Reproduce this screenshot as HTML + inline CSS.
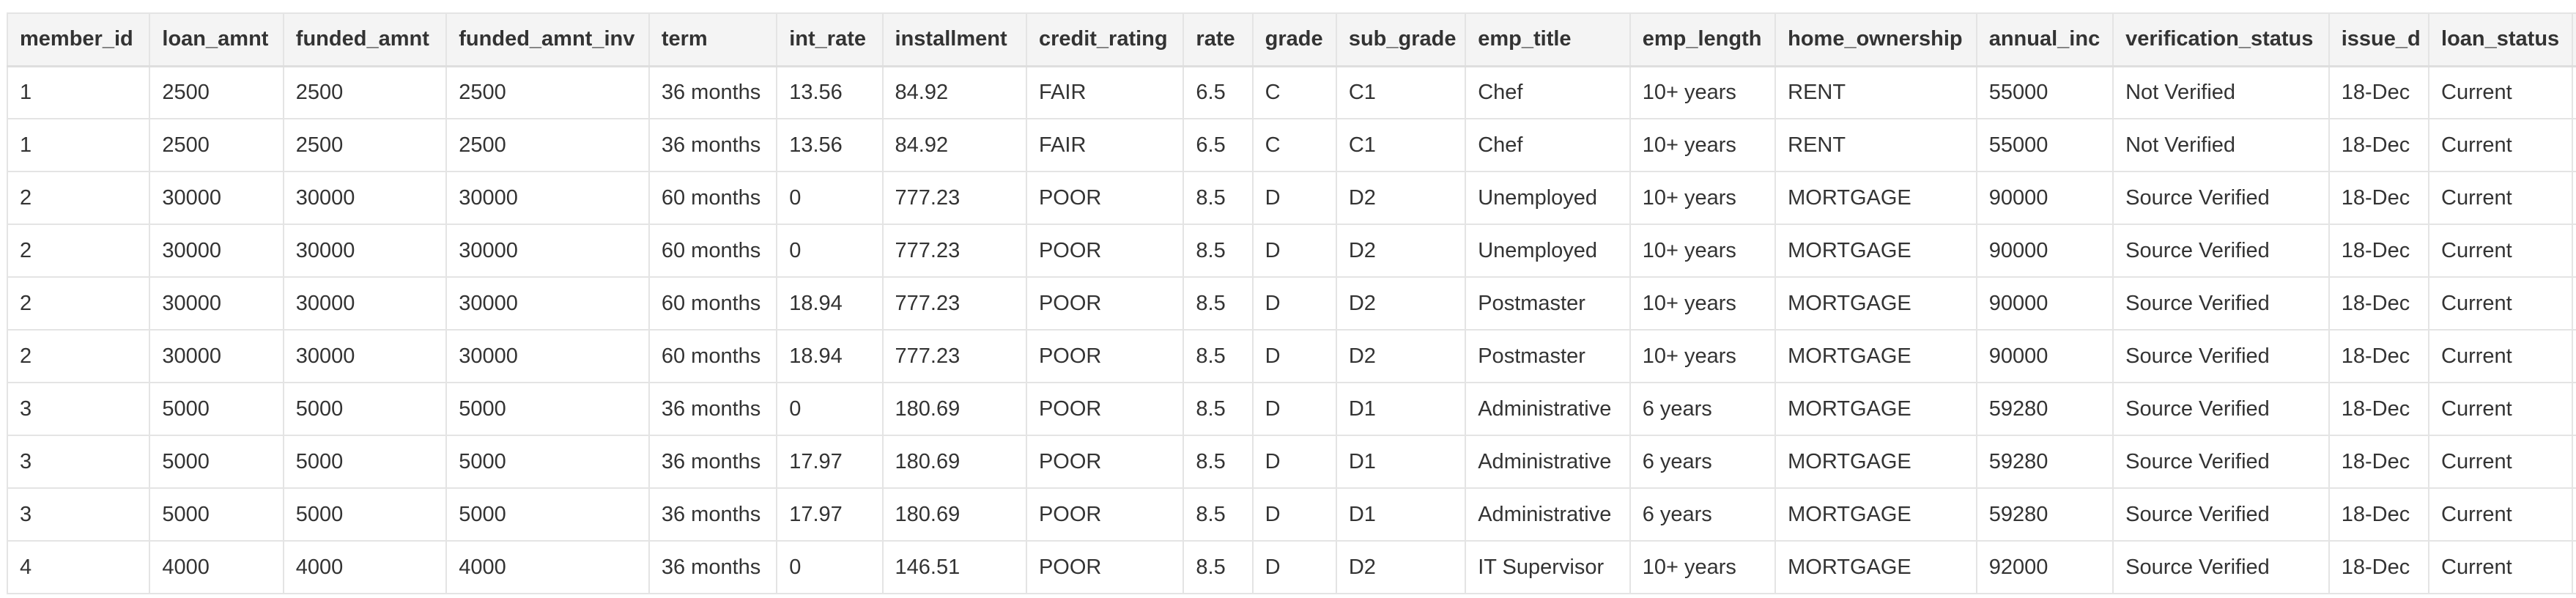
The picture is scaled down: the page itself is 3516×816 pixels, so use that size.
<!DOCTYPE html>
<html><head><meta charset="utf-8"><style>
html,body{margin:0;padding:0;background:#fff;width:3516px;height:816px;overflow:hidden}
table{position:absolute;left:9px;top:17px;border-collapse:collapse;table-layout:fixed;width:3700px;font-family:"Liberation Sans",sans-serif;font-size:29px;color:#333}
td,th{border:2px solid #e4e4e4;height:70px;padding:0 0 0 16px;text-align:left;white-space:nowrap;overflow:hidden;vertical-align:middle;box-sizing:border-box}
tr{height:72px}
th{background:#f4f4f4;font-weight:bold;color:#333;border-bottom:3px solid #dedede}
</style></head><body>
<table>
<colgroup>
<col style="width:194px"><col style="width:182px"><col style="width:222px"><col style="width:276px"><col style="width:174px"><col style="width:144px"><col style="width:196px"><col style="width:214px"><col style="width:94px"><col style="width:114px"><col style="width:176px"><col style="width:224px"><col style="width:198px"><col style="width:274px"><col style="width:186px"><col style="width:294px"><col style="width:136px"><col style="width:196px"><col style="width:196px">
</colgroup>
<tr><th>member_id</th><th>loan_amnt</th><th>funded_amnt</th><th>funded_amnt_inv</th><th>term</th><th>int_rate</th><th>installment</th><th>credit_rating</th><th>rate</th><th>grade</th><th>sub_grade</th><th>emp_title</th><th>emp_length</th><th>home_ownership</th><th>annual_inc</th><th>verification_status</th><th>issue_d</th><th>loan_status</th><th></th></tr>
<tr><td>1</td><td>2500</td><td>2500</td><td>2500</td><td>36 months</td><td>13.56</td><td>84.92</td><td>FAIR</td><td>6.5</td><td>C</td><td>C1</td><td>Chef</td><td>10+ years</td><td>RENT</td><td>55000</td><td>Not Verified</td><td>18-Dec</td><td>Current</td><td></td></tr>
<tr><td>1</td><td>2500</td><td>2500</td><td>2500</td><td>36 months</td><td>13.56</td><td>84.92</td><td>FAIR</td><td>6.5</td><td>C</td><td>C1</td><td>Chef</td><td>10+ years</td><td>RENT</td><td>55000</td><td>Not Verified</td><td>18-Dec</td><td>Current</td><td></td></tr>
<tr><td>2</td><td>30000</td><td>30000</td><td>30000</td><td>60 months</td><td>0</td><td>777.23</td><td>POOR</td><td>8.5</td><td>D</td><td>D2</td><td>Unemployed</td><td>10+ years</td><td>MORTGAGE</td><td>90000</td><td>Source Verified</td><td>18-Dec</td><td>Current</td><td></td></tr>
<tr><td>2</td><td>30000</td><td>30000</td><td>30000</td><td>60 months</td><td>0</td><td>777.23</td><td>POOR</td><td>8.5</td><td>D</td><td>D2</td><td>Unemployed</td><td>10+ years</td><td>MORTGAGE</td><td>90000</td><td>Source Verified</td><td>18-Dec</td><td>Current</td><td></td></tr>
<tr><td>2</td><td>30000</td><td>30000</td><td>30000</td><td>60 months</td><td>18.94</td><td>777.23</td><td>POOR</td><td>8.5</td><td>D</td><td>D2</td><td>Postmaster</td><td>10+ years</td><td>MORTGAGE</td><td>90000</td><td>Source Verified</td><td>18-Dec</td><td>Current</td><td></td></tr>
<tr><td>2</td><td>30000</td><td>30000</td><td>30000</td><td>60 months</td><td>18.94</td><td>777.23</td><td>POOR</td><td>8.5</td><td>D</td><td>D2</td><td>Postmaster</td><td>10+ years</td><td>MORTGAGE</td><td>90000</td><td>Source Verified</td><td>18-Dec</td><td>Current</td><td></td></tr>
<tr><td>3</td><td>5000</td><td>5000</td><td>5000</td><td>36 months</td><td>0</td><td>180.69</td><td>POOR</td><td>8.5</td><td>D</td><td>D1</td><td>Administrative</td><td>6 years</td><td>MORTGAGE</td><td>59280</td><td>Source Verified</td><td>18-Dec</td><td>Current</td><td></td></tr>
<tr><td>3</td><td>5000</td><td>5000</td><td>5000</td><td>36 months</td><td>17.97</td><td>180.69</td><td>POOR</td><td>8.5</td><td>D</td><td>D1</td><td>Administrative</td><td>6 years</td><td>MORTGAGE</td><td>59280</td><td>Source Verified</td><td>18-Dec</td><td>Current</td><td></td></tr>
<tr><td>3</td><td>5000</td><td>5000</td><td>5000</td><td>36 months</td><td>17.97</td><td>180.69</td><td>POOR</td><td>8.5</td><td>D</td><td>D1</td><td>Administrative</td><td>6 years</td><td>MORTGAGE</td><td>59280</td><td>Source Verified</td><td>18-Dec</td><td>Current</td><td></td></tr>
<tr><td>4</td><td>4000</td><td>4000</td><td>4000</td><td>36 months</td><td>0</td><td>146.51</td><td>POOR</td><td>8.5</td><td>D</td><td>D2</td><td>IT Supervisor</td><td>10+ years</td><td>MORTGAGE</td><td>92000</td><td>Source Verified</td><td>18-Dec</td><td>Current</td><td></td></tr>
</table>
</body></html>
